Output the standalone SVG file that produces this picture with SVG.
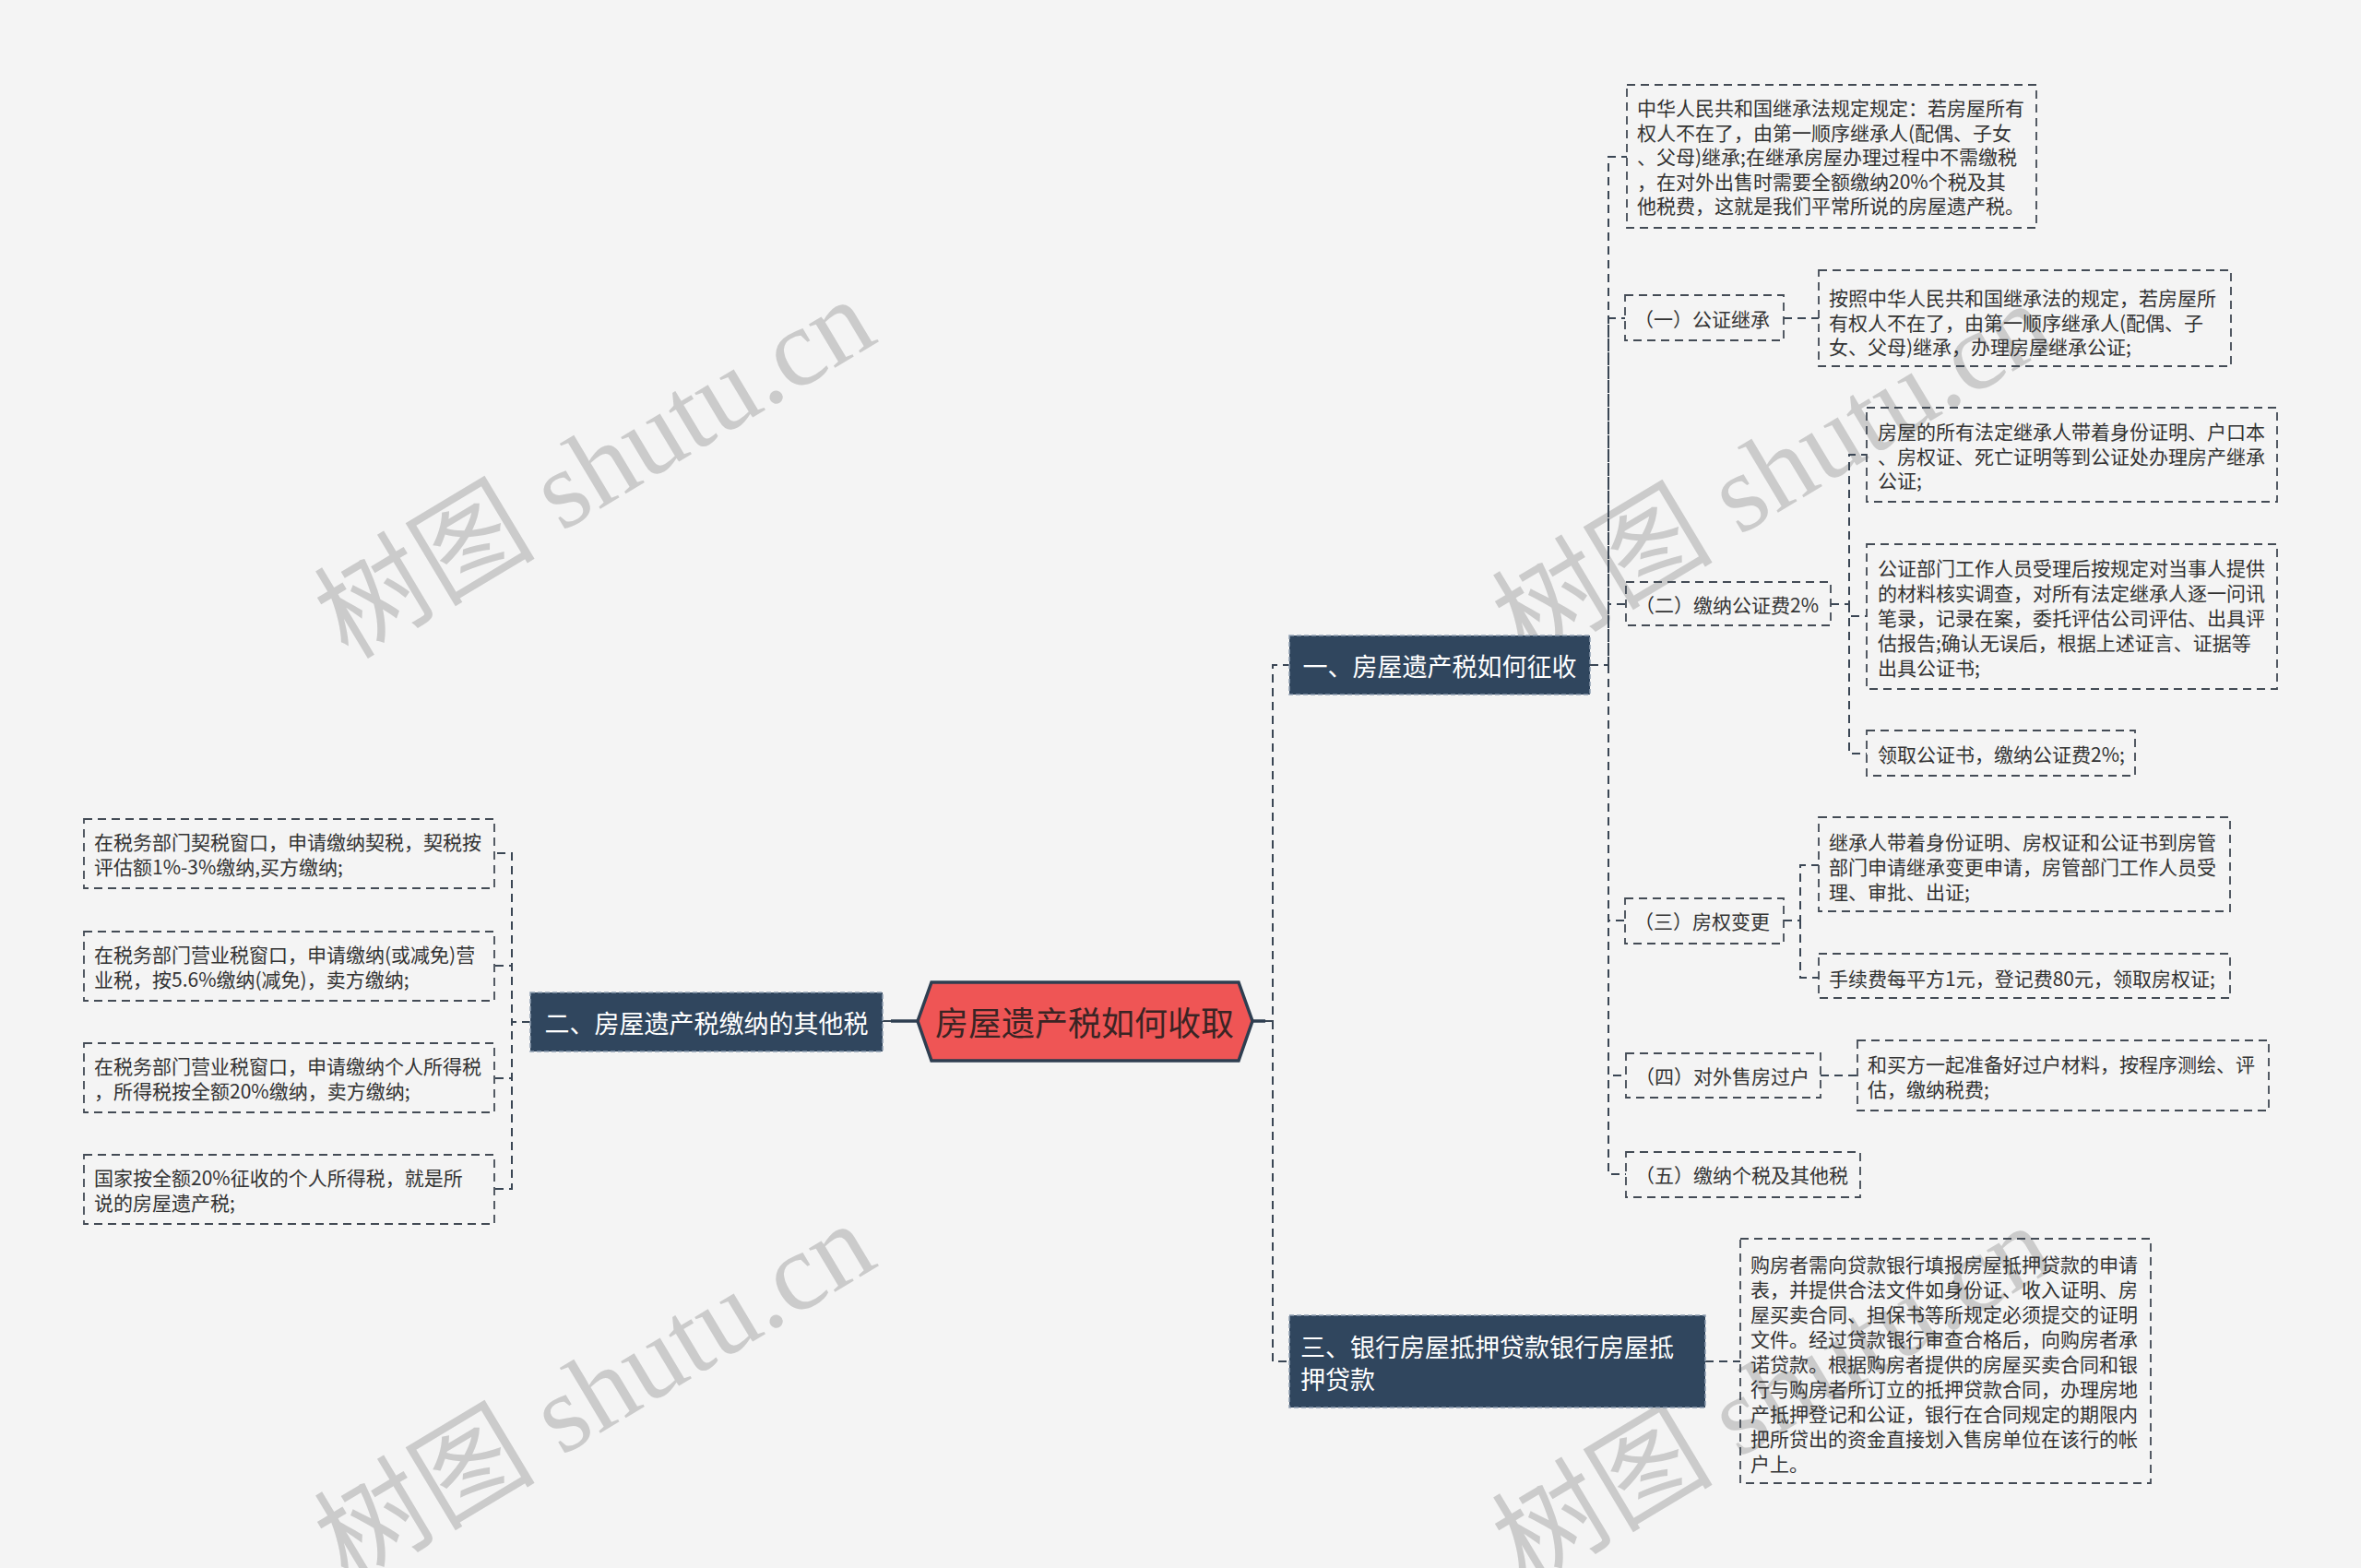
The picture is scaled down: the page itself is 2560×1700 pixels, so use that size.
<svg xmlns="http://www.w3.org/2000/svg" width="2560" height="1700" viewBox="0 0 2560 1700">
<style>
text{font-family:"Noto Sans CJK SC","Noto Sans",sans-serif;dominant-baseline:central}
.wm{font-family:"Liberation Serif","Noto Sans CJK SC",serif;font-size:120px;fill:#cbcbcb;text-anchor:middle}
.leaf rect{fill:none;stroke:#434b55;stroke-width:1.8;stroke-dasharray:9 6}
.leaf text{font-size:21px;fill:#333}
.sub rect{fill:none;stroke:#434b55;stroke-width:1.8;stroke-dasharray:9 6}
.sub text{font-size:21px;fill:#333}
.main rect{fill:#30465e;stroke:#8d9db0;stroke-width:1.5;stroke-dasharray:5 3}
.main text{font-size:27px;fill:#fff}
.conn path{fill:none;stroke:#3a4654;stroke-width:2;stroke-dasharray:9 6}
.conn .solid{stroke:#2e3e50;stroke-width:3.5;stroke-dasharray:none}
</style>
<rect width="2560" height="1700" fill="#f4f4f4"/>
<g id="watermarks">
<text class="wm" transform="translate(645,508) rotate(-31)">树图 shutu.cn</text>
<text class="wm" transform="translate(645,1510) rotate(-31)">树图 shutu.cn</text>
<text class="wm" transform="translate(1922,512) rotate(-31)">树图 shutu.cn</text>
<text class="wm" transform="translate(1922,1512) rotate(-31)">树图 shutu.cn</text>
</g>
<g id="connectors" class="conn">
<path class="solid" d="M995,1107 H966"/>
<path d="M966,1107 H957"/>
<path class="solid" d="M1358,1107 H1372"/>
<path d="M1372,1107 H1380 V721 H1398"/>
<path d="M1380,1107 V1476 H1398"/>
<path d="M575,1108 H555 V925 H536"/>
<path d="M575,1108 H555 V1047 H536"/>
<path d="M575,1108 H555 V1169 H536"/>
<path d="M575,1108 H555 V1289 H536"/>
<path d="M1724,721 H1744 V170 H1764"/>
<path d="M1744,721 V345 H1762"/>
<path d="M1744,721 V655 H1763"/>
<path d="M1744,721 V998 H1762"/>
<path d="M1744,721 V1166 H1763"/>
<path d="M1744,721 V1273 H1763"/>
<path d="M1934,345 H1972"/>
<path d="M1985,655 H2005 V493 H2024"/>
<path d="M2005,655 V668 H2024"/>
<path d="M2005,655 V817 H2024"/>
<path d="M1934,998 H1952 V938 H1972"/>
<path d="M1952,998 V1060 H1972"/>
<path d="M1974,1166 H2014"/>
<path d="M1849,1476 H1887"/>
</g>
<g id="root">
<polygon points="995,1107 1010,1065 1343,1065 1358,1107 1343,1150 1010,1150" fill="#ef5555" stroke="#2e3e50" stroke-width="3.5"/>
<text x="1176" y="1107" text-anchor="middle" font-size="36" fill="#3a2424">房屋遗产税如何收取</text>
</g>
<g id="n1" class="main">
<rect x="1398" y="689" width="326" height="64"/>
<text x="1561" y="721" text-anchor="middle">一、房屋遗产税如何征收</text>
</g>
<g id="n2" class="main">
<rect x="575" y="1076" width="382" height="64"/>
<text x="766" y="1108" text-anchor="middle">二、房屋遗产税缴纳的其他税</text>
</g>
<g id="n3" class="main">
<rect x="1398" y="1426" width="451" height="100"/>
<text x="1410" y="1459">三、银行房屋抵押贷款银行房屋抵</text>
<text x="1410" y="1494">押贷款</text>
</g>
<g id="l1" class="leaf">
<rect x="91" y="888" width="445" height="75"/>
<text x="102" y="912">在税务部门契税窗口，申请缴纳契税，契税按</text>
<text x="102" y="939">评估额1%-3%缴纳,买方缴纳;</text>
</g>
<g id="l2" class="leaf">
<rect x="91" y="1010" width="445" height="75"/>
<text x="102" y="1034">在税务部门营业税窗口，申请缴纳(或减免)营</text>
<text x="102" y="1061">业税，按5.6%缴纳(减免)，卖方缴纳;</text>
</g>
<g id="l3" class="leaf">
<rect x="91" y="1131" width="445" height="75"/>
<text x="102" y="1155">在税务部门营业税窗口，申请缴纳个人所得税</text>
<text x="102" y="1182">，所得税按全额20%缴纳，卖方缴纳;</text>
</g>
<g id="l4" class="leaf">
<rect x="91" y="1252" width="445" height="75"/>
<text x="102" y="1276">国家按全额20%征收的个人所得税，就是所</text>
<text x="102" y="1303">说的房屋遗产税;</text>
</g>
<g id="r0" class="leaf">
<rect x="1764" y="92" width="444" height="155"/>
<text x="1775" y="116">中华人民共和国继承法规定规定：若房屋所有</text>
<text x="1775" y="142.5">权人不在了，由第一顺序继承人(配偶、子女</text>
<text x="1775" y="169">、父母)继承;在继承房屋办理过程中不需缴税</text>
<text x="1775" y="195.5">，在对外出售时需要全额缴纳20%个税及其</text>
<text x="1775" y="222">他税费，这就是我们平常所说的房屋遗产税。</text>
</g>
<g id="s1" class="sub">
<rect x="1762" y="320" width="172" height="49"/>
<text x="1772" y="345">（一）公证继承</text>
</g>
<g id="s1a" class="leaf">
<rect x="1972" y="293" width="447" height="104"/>
<text x="1983" y="322">按照中华人民共和国继承法的规定，若房屋所</text>
<text x="1983" y="348.5">有权人不在了，由第一顺序继承人(配偶、子</text>
<text x="1983" y="375">女、父母)继承，办理房屋继承公证;</text>
</g>
<g id="s2" class="sub">
<rect x="1763" y="631" width="222" height="47"/>
<text x="1773" y="655">（二）缴纳公证费2%</text>
</g>
<g id="s2a" class="leaf">
<rect x="2024" y="442" width="445" height="102"/>
<text x="2036" y="467">房屋的所有法定继承人带着身份证明、户口本</text>
<text x="2036" y="493.5">、房权证、死亡证明等到公证处办理房产继承</text>
<text x="2036" y="520">公证;</text>
</g>
<g id="s2b" class="leaf">
<rect x="2024" y="590" width="445" height="157"/>
<text x="2036" y="615">公证部门工作人员受理后按规定对当事人提供</text>
<text x="2036" y="642">的材料核实调查，对所有法定继承人逐一问讯</text>
<text x="2036" y="669">笔录，记录在案，委托评估公司评估、出具评</text>
<text x="2036" y="696">估报告;确认无误后，根据上述证言、证据等</text>
<text x="2036" y="723">出具公证书;</text>
</g>
<g id="s2c" class="leaf">
<rect x="2024" y="792" width="291" height="49"/>
<text x="2036" y="817">领取公证书，缴纳公证费2%;</text>
</g>
<g id="s3" class="sub">
<rect x="1762" y="974" width="172" height="49"/>
<text x="1772" y="998">（三）房权变更</text>
</g>
<g id="s3a" class="leaf">
<rect x="1972" y="886" width="446" height="102"/>
<text x="1983" y="912">继承人带着身份证明、房权证和公证书到房管</text>
<text x="1983" y="939">部门申请继承变更申请，房管部门工作人员受</text>
<text x="1983" y="966">理、审批、出证;</text>
</g>
<g id="s3b" class="leaf">
<rect x="1972" y="1034" width="446" height="48"/>
<text x="1983" y="1060">手续费每平方1元，登记费80元，领取房权证;</text>
</g>
<g id="s4" class="sub">
<rect x="1763" y="1142" width="211" height="48"/>
<text x="1773" y="1166">（四）对外售房过户</text>
</g>
<g id="s4a" class="leaf">
<rect x="2014" y="1128" width="446" height="76"/>
<text x="2025" y="1153">和买方一起准备好过户材料，按程序测绘、评</text>
<text x="2025" y="1180">估，缴纳税费;</text>
</g>
<g id="s5" class="sub">
<rect x="1763" y="1249" width="254" height="49"/>
<text x="1773" y="1273">（五）缴纳个税及其他税</text>
</g>
<g id="n3a" class="leaf">
<rect x="1887" y="1343" width="445" height="265"/>
<text x="1898" y="1370">购房者需向贷款银行填报房屋抵押贷款的申请</text>
<text x="1898" y="1397">表，并提供合法文件如身份证、收入证明、房</text>
<text x="1898" y="1424">屋买卖合同、担保书等所规定必须提交的证明</text>
<text x="1898" y="1451">文件。经过贷款银行审查合格后，向购房者承</text>
<text x="1898" y="1478">诺贷款。根据购房者提供的房屋买卖合同和银</text>
<text x="1898" y="1505">行与购房者所订立的抵押贷款合同，办理房地</text>
<text x="1898" y="1532">产抵押登记和公证，银行在合同规定的期限内</text>
<text x="1898" y="1559">把所贷出的资金直接划入售房单位在该行的帐</text>
<text x="1898" y="1586">户上。</text>
</g>
</svg>
